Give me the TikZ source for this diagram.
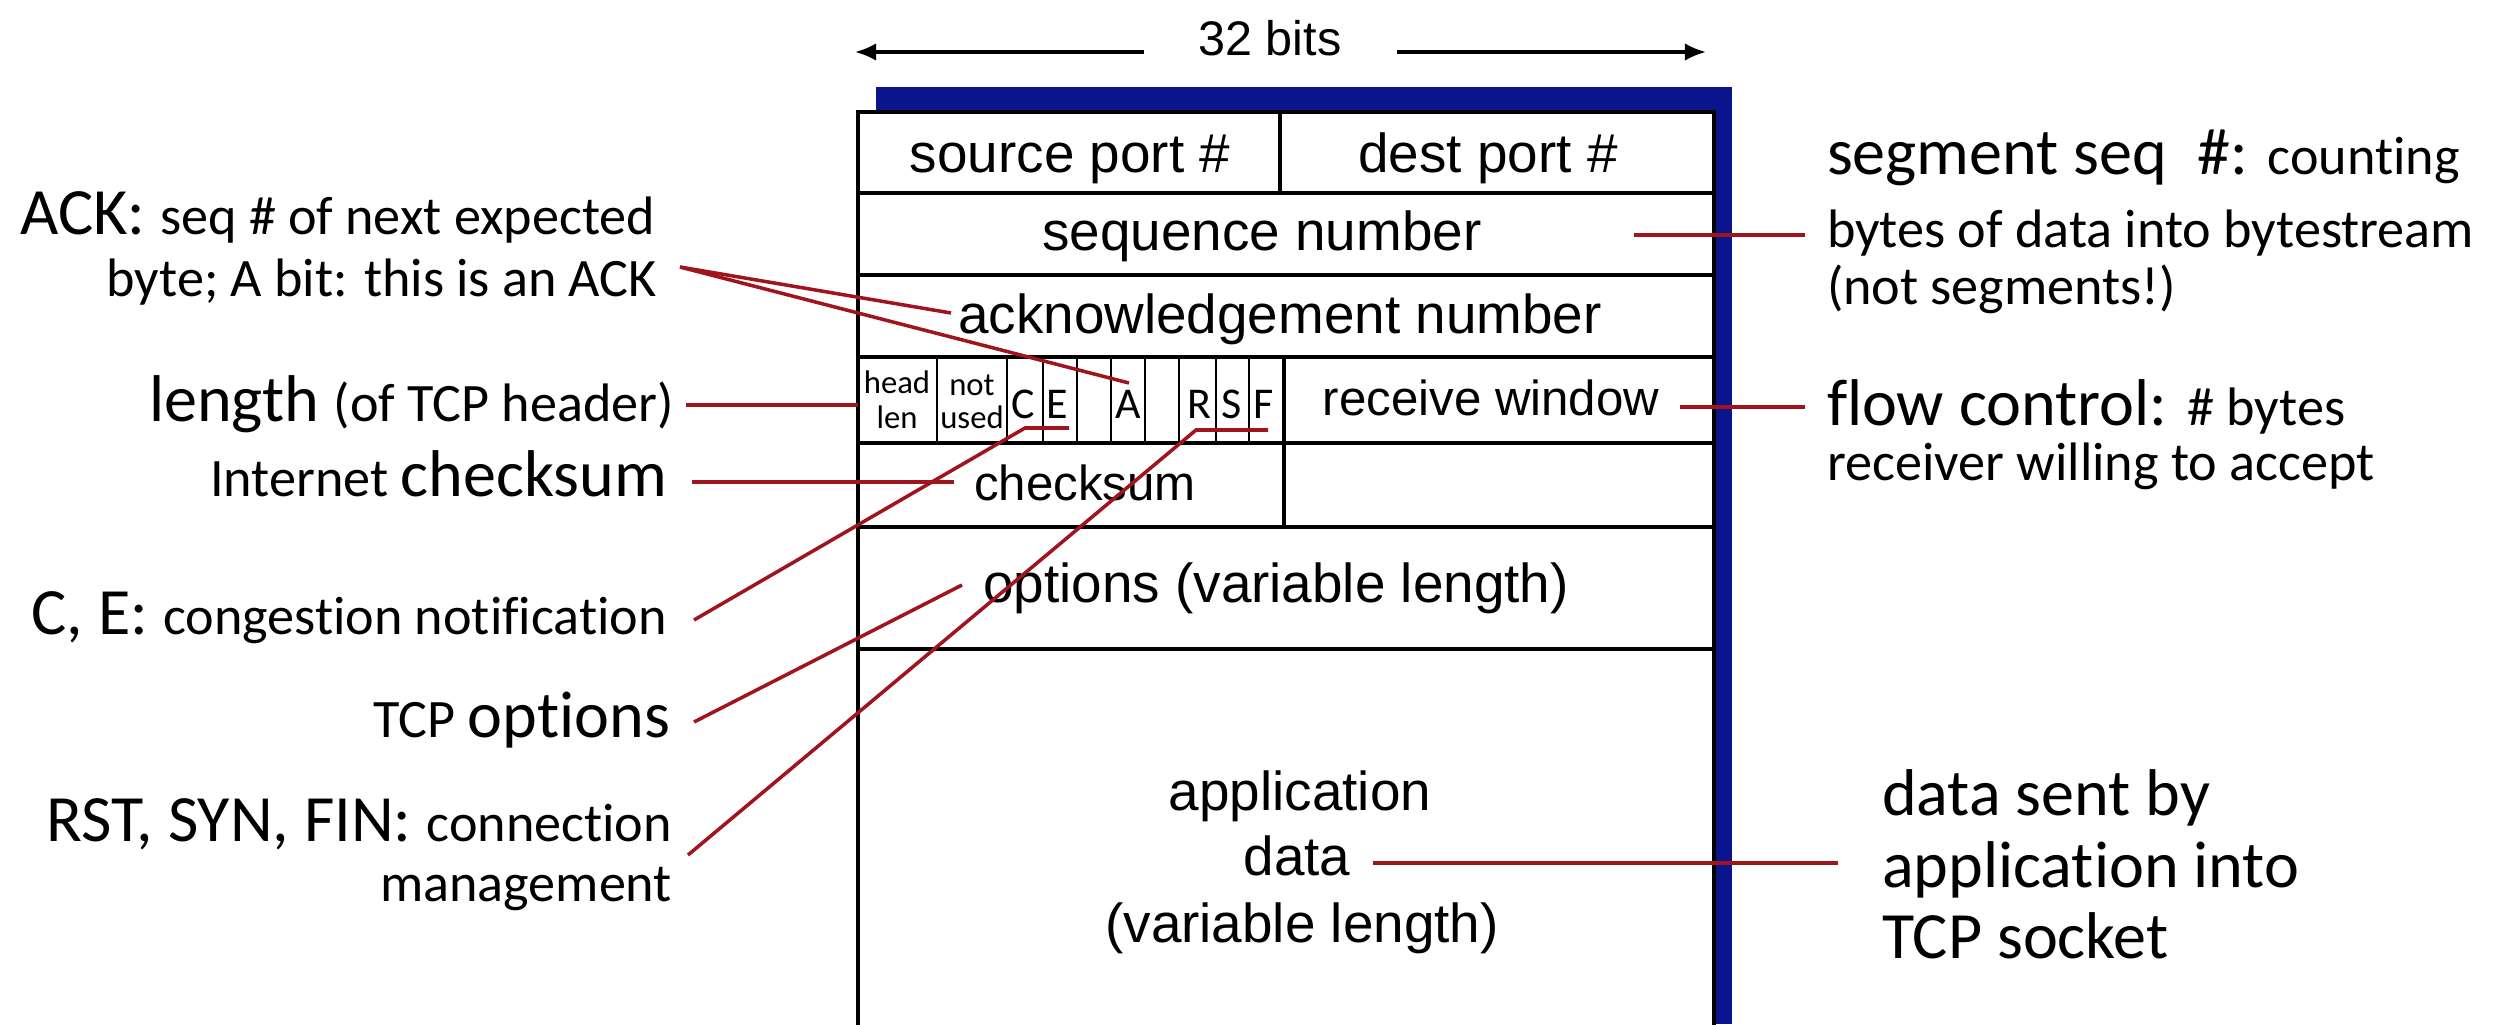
\documentclass[tikz,border=0pt]{standalone}
\usepackage{fontspec}
\setmainfont[Ligatures=NoCommon]{Carlito}
\newfontfamily\arialf{Liberation Sans}
\usetikzlibrary{arrows.meta}
\definecolor{hdrblue}{RGB}{10,20,140}
\definecolor{linered}{RGB}{160,20,30}
\newcommand\lbig{\fontsize{18.8}{22}\selectfont}
\newcommand\lsmall{\fontsize{15.4}{18}\selectfont}
\begin{document}
\begin{tikzpicture}[x=0.01cm,y=-0.01cm,
  lab/.style={inner sep=0pt, outer sep=0pt},
  boxt/.style={inner sep=0pt, font=\arialf\fontsize{15.6}{19}\selectfont},
  boxs/.style={inner sep=0pt, font=\arialf\fontsize{14}{17}\selectfont},
  flag/.style={inner sep=0pt, font=\fontsize{12.5}{14}\selectfont},
  tiny/.style={inner sep=0pt, font=\fontsize{9.3}{10}\selectfont},
  grid/.style={line width=0.9pt, black},
  conn/.style={line width=1pt, linered},
  widthar/.style={line width=0.9pt, -{Latex[length=6pt,width=5pt]}}]
\useasboundingbox (0,0) rectangle (2512,1024);
\fill[white] (0,0) rectangle (2512,1024);

% 32 bits
\node[inner sep=0pt, anchor=base, font=\arialf\fontsize{13.8}{16}\selectfont] (bits) at (1270,55) {32 bits};
\coordinate (arLt) at (1144,52);
\coordinate (arLh) at (855,52);
\coordinate (arRt) at (1397,52);
\coordinate (arRh) at (1706,52);
\draw[widthar] (arLt) -- (arLh);
\draw[widthar] (arRt) -- (arRh);

% header box
\fill[hdrblue] (876,87) rectangle (1732,1024);
\fill[white] (858,112) rectangle (1714,1024);
\draw[grid] (858,1030) -- (858,112) -- (1714,112) -- (1714,1030);
\foreach \yy in {193,275,357,443,527,649} \draw[grid] (858,\yy) -- (1714,\yy);
\draw[grid] (1280,112) -- (1280,193);
\draw[grid] (1284,357) -- (1284,527);
\foreach \xx in {937,1007,1043,1077,1111,1145,1179,1216,1249} \draw[grid, line width=0.75pt] (\xx,357) -- (\xx,443);

% box texts
\node[boxt, anchor=base] (src) at (1070,172) {source port \#};
\node[boxt, anchor=base] (dst) at (1488,172) {dest port \#};
\node[boxt, anchor=base] (seq) at (1262,250) {sequence number};
\node[boxt, anchor=base] (ack) at (1280,333) {acknowledgement number};
\node[boxs, anchor=base] (rwin) at (1491,415) {receive window};
\node[boxs, anchor=base] (chk) at (1085,500) {checksum};
\node[boxt, anchor=base] (opt) at (1276,602) {options (variable length)};
\node[boxt, anchor=base] (app1) at (1300,810) {application};
\node[boxt, anchor=base] (app2) at (1297,875) {data};
\node[boxt, anchor=base] (app3) at (1302,942) {(variable length)};
\node[tiny, anchor=base] (hl1) at (897,393) {head};
\node[tiny, anchor=base] (hl2) at (897,428) {len};
\node[tiny, anchor=base] (nu1) at (972,395) {not};
\node[tiny, anchor=base] (nu2) at (972,428) {used};
\node[flag, anchor=base] (fC) at (1023,418) {C};
\node[flag, anchor=base] (fE) at (1057,418) {E};
\node[flag, anchor=base] (fA) at (1128,418) {A};
\node[flag, anchor=base] (fR) at (1199,418) {R};
\node[flag, anchor=base] (fS) at (1232,418) {S};
\node[flag, anchor=base] (fF) at (1264,418) {F};

% left labels
\node[lab, anchor=base east] (ackL1) at (655,234) {\lbig ACK: \lsmall seq \# of next expected};
\node[lab, anchor=base east] (ackL2) at (657,296) {\lsmall byte; A bit: this is an ACK};
\node[lab, anchor=base east] (lenL) at (674,421) {\lbig length \lsmall (of TCP header)};
\node[lab, anchor=base east] (chkL) at (667,496) {\lsmall Internet \lbig checksum};
\node[lab, anchor=base east] (ceL) at (667,634) {\lbig C, E: \lsmall congestion notification};
\node[lab, anchor=base east] (optL) at (670,737) {\lsmall TCP \lbig options};
\node[lab, anchor=base east] (rstL1) at (672,841) {\lbig RST, SYN, FIN: \lsmall connection};
\node[lab, anchor=base east] (rstL2) at (672,901) {\lsmall management};

% right labels
\node[lab, anchor=base west] (seqR1) at (1827,174) {\lbig segment seq\ \ \#: \lsmall counting};
\node[lab, anchor=base west] (seqR2) at (1827,247) {\lsmall bytes of data into bytestream};
\node[lab, anchor=base west] (seqR3) at (1827,304) {\lsmall (not segments!)};
\node[lab, anchor=base west] (flowR1) at (1827,425) {\lbig flow control: \lsmall \# bytes};
\node[lab, anchor=base west] (flowR2) at (1827,480) {\lsmall receiver willing to accept};
\node[lab, anchor=base west] (datR1) at (1882,815) {\lbig data sent by};
\node[lab, anchor=base west] (datR2) at (1882,887) {\lbig application into};
\node[lab, anchor=base west] (datR3) at (1882,958) {\lbig TCP socket};

% connector end points
\coordinate (ackS) at (680,267);
\coordinate (ackN) at (951,313);
\coordinate (aBit) at (1129,383);
\coordinate (lenS) at (686,405);
\coordinate (lenE) at (858,405);
\coordinate (chkS) at (692,482);
\coordinate (chkE) at (954,482);
\coordinate (ceS) at (694,620);
\coordinate (ceC) at (1025,428);
\coordinate (ceE) at (1069,428);
\coordinate (optS) at (694,722);
\coordinate (optE) at (962,585);
\coordinate (rstS) at (688,855);
\coordinate (rstR) at (1196,430);
\coordinate (rstF) at (1268,430);
\coordinate (seqS) at (1634,235);
\coordinate (seqE) at (1805,235);
\coordinate (flowS) at (1680,407);
\coordinate (flowE) at (1805,407);
\coordinate (dataS) at (1373,863);
\coordinate (dataE) at (1838,863);

% connectors
\draw[conn] (ackS) -- (ackN);
\draw[conn] (ackS) -- (aBit);
\draw[conn] (lenS) -- (lenE);
\draw[conn] (chkS) -- (chkE);
\draw[conn] (ceS) -- (ceC) -- (ceE);
\draw[conn] (optS) -- (optE);
\draw[conn] (rstS) -- (rstR) -- (rstF);
\draw[conn] (seqS) -- (seqE);
\draw[conn] (flowS) -- (flowE);
\draw[conn] (dataS) -- (dataE);
\end{tikzpicture}
\end{document}
